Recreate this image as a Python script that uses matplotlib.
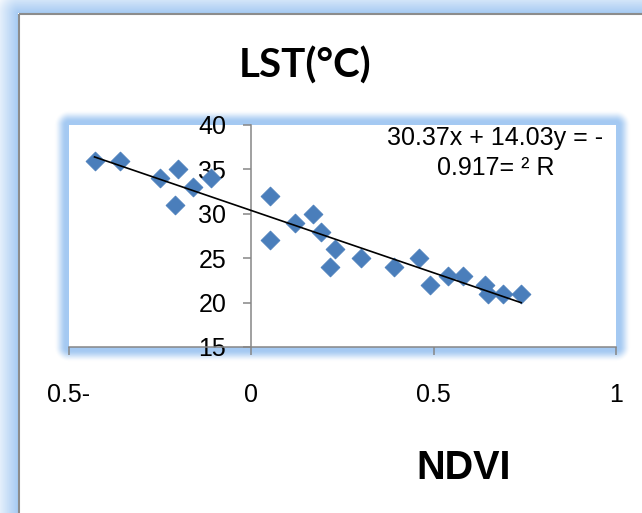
import numpy as np
import matplotlib
matplotlib.use("Agg")
import matplotlib.pyplot as plt

# ---- data -------------------------------------------------------------
ndvi = [-0.43, -0.36, -0.25, -0.20, -0.21, -0.16, -0.11, 0.05, 0.05, 0.12,
        0.17, 0.19, 0.23, 0.215, 0.30, 0.39, 0.46, 0.49, 0.54, 0.58,
        0.64, 0.65, 0.69, 0.74]
lst = [36, 36, 34, 35, 31, 33, 34, 32, 27, 29,
       30, 28, 26, 24, 25, 24, 25, 22, 23, 23,
       22, 21, 21, 21]

slope = -14.03
intercept = 30.37
r_squared = 0.917

x_ticks = [-0.5, 0, 0.5, 1]
x_tick_labels = ["0.5-", "0", "0.5", "1"]
y_ticks = [15, 20, 25, 30, 35, 40]

title_text = "LST(°C)"
xlabel_text = "NDVI"

# ---- layout (pixel units) ---------------------------------------------
W, H = 642, 513
fig = plt.figure(figsize=(W / 100, H / 100), dpi=100)
fig.patch.set_facecolor("white")

def fx(px):
    return px / W

def fy(py):
    return 1 - py / H

GLOW = np.array([0.645, 0.790, 0.950])
FRAME_GRAY = "#8c8c8c"
AXIS_GRAY = "#868686"
MARKER_BLUE = "#4a7ebb"

# background layer: soft blue glows and the chart frame
bg = fig.add_axes([0, 0, 1, 1], zorder=-5)
bg.set_xlim(0, W)
bg.set_ylim(H, 0)
bg.axis("off")

yy, xx = np.mgrid[0:H, 0:W] + 0.5

# glow outside the chart frame (frame runs off the right/bottom edges)
fx0, fy0 = 18.5, 13.5
dx = np.maximum(fx0 - xx, 0)
dy = np.maximum(fy0 - yy, 0)
d_out = np.hypot(dx, dy)
outside = (xx < fx0) | (yy < fy0)
a_outer = np.where(outside, np.clip(1 - d_out / 26.0, 0, 1), 0)

# glow around the plot area
px0, py0, px1, py1 = 69, 125, 616, 347
dx = np.maximum(np.maximum(px0 - xx, 0), xx - px1)
dy = np.maximum(np.maximum(py0 - yy, 0), yy - py1)
d_pa = np.hypot(dx, dy)
t = np.clip((d_pa - 3) / 12.0, 0, 1)
a_plot = np.where(d_pa > 0, 1 - t * t * (3 - 2 * t), 0)

alpha = np.maximum(a_outer, a_plot)
rgba = np.zeros((H, W, 4))
rgba[..., :3] = GLOW
rgba[..., 3] = alpha
bg.imshow(rgba, extent=[0, W, H, 0], aspect="auto", interpolation="bilinear")
bg.plot([fx0, W], [fy0, fy0], color=FRAME_GRAY, lw=1.5, solid_capstyle="butt")
bg.plot([fx0, fx0], [fy0, H], color=FRAME_GRAY, lw=1.5, solid_capstyle="butt")

# ---- scatter plot -----------------------------------------------------
ax = fig.add_axes([fx(px0), fy(py1), (px1 - px0) / W, (py1 - py0) / H])
ax.set_facecolor("white")
ax.set_xlim(-0.5, 1)
ax.set_ylim(15, 40)

for side in ("top", "right"):
    ax.spines[side].set_visible(False)
ax.spines["left"].set_position(("data", 0))
for side in ("left", "bottom"):
    ax.spines[side].set_color(AXIS_GRAY)
    ax.spines[side].set_linewidth(1.1)

ax.set_xticks(x_ticks)
ax.set_xticklabels(x_tick_labels)
ax.set_yticks(y_ticks)
ax.set_yticklabels([str(v) for v in y_ticks])

ax.tick_params(axis="x", direction="out", length=6, width=1.1, color=AXIS_GRAY,
               pad=20, labelsize=18)
ax.tick_params(axis="y", direction="out", length=6, width=1.1, color=AXIS_GRAY,
               pad=12, labelsize=18)
for lab in ax.get_xticklabels() + ax.get_yticklabels():
    lab.set_fontfamily("Liberation Sans")

ax.scatter(ndvi, lst, marker="D", s=9.6 ** 2, color=MARKER_BLUE,
           edgecolors=MARKER_BLUE, linewidths=0.6, zorder=3, clip_on=False)

x_fit = np.array([min(ndvi), max(ndvi)])
ax.plot(x_fit, slope * x_fit + intercept, color="black", lw=1.2, zorder=4)

# trendline label
eq_line1 = f"{intercept:.2f}x + {abs(slope):.2f}y = -"
eq_line2 = f"{r_squared:.3f}= ² R"
fig.text(fx(495), fy(145), eq_line1, ha="center", va="baseline",
         family="Liberation Sans", size=18)
fig.text(fx(496), fy(175), eq_line2, ha="center", va="baseline",
         family="Liberation Sans", size=18)

# titles
fig.text(fx(305), fy(66), title_text, ha="center", va="center",
         family="Lato", weight="bold", size=29)
fig.text(fx(464), fy(468), xlabel_text, ha="center", va="center",
         family="Liberation Sans", weight="bold", size=28.5)

fig.savefig("out.png", dpi=100)
